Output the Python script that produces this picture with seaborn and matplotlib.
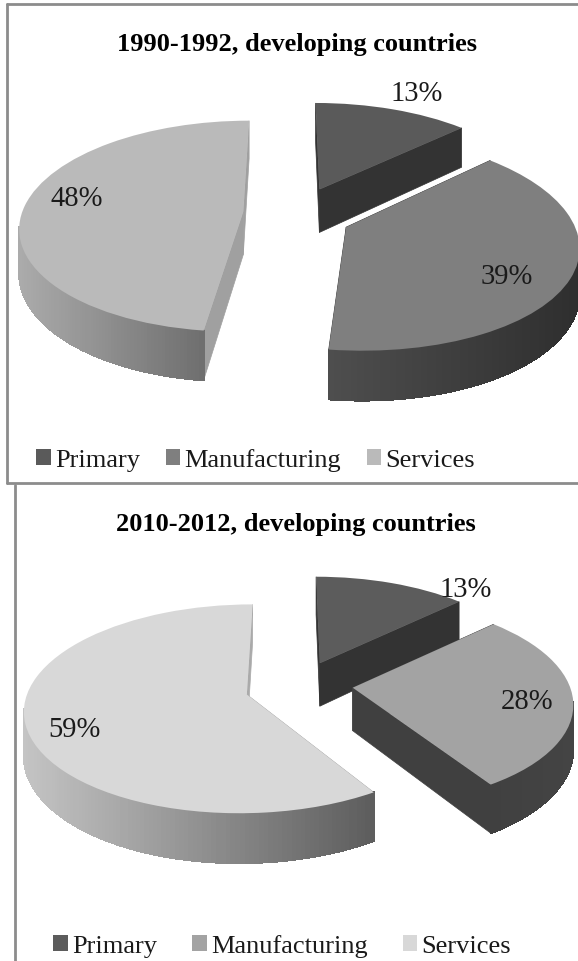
import numpy as np
import matplotlib
matplotlib.use("Agg")
import matplotlib.pyplot as plt
from matplotlib.collections import PolyCollection
from matplotlib.lines import Line2D
from matplotlib.patches import Patch, Polygon
from matplotlib.transforms import Transform
import seaborn as sns

sectors = ["Primary", "Manufacturing", "Services"]
shares_1990 = [13, 39, 48]
shares_2010 = [13, 28, 59]
title_1990 = "1990-1992, developing countries"
title_2010 = "2010-2012, developing countries"

sns.set_theme(style="white")
plt.rcParams["font.family"] = ["Liberation Serif", "DejaVu Serif"]

W, H = 578, 962
PERSPECTIVE = 0.137
RX, RY = 229.0, 103.5
BORDER = "#8c8c8c"


class TiltedSlice(Transform):
    """Projects a flat pie slice so that its far side recedes, about its own tip."""
    input_dims = 2
    output_dims = 2
    is_separable = False
    has_inverse = False

    def __init__(self, center, scale=(1.0, 1.0), lean=0.0, nudge=(0, 0), drop=0.0):
        super().__init__()
        self.center = center
        self.scale = scale
        self.lean = lean
        self.nudge = nudge
        self.drop = drop

    def transform_non_affine(self, values):
        pts = np.asarray(values, dtype=float)
        u = pts[:, 0] - self.center[0]
        v = pts[:, 1] - self.center[1]
        w = 1 + PERSPECTIVE * v
        x = self.center[0] + self.scale[0] * (u + self.lean * v) / w + self.nudge[0] / RX
        y = self.center[1] + self.scale[1] * v / w - self.drop / w - self.nudge[1] / RY
        return np.column_stack([x, y])


def draw_chart(box, pie_center, shares, title, title_xy, explode, scales, leans, nudges, depth,
               faces, walls, cuts, layers, labels, legend_xy, col_gap):
    top, bottom = box
    ax = fig.add_axes([0, 1 - bottom / H, 1, (bottom - top) / H])
    wedges, _ = ax.pie(shares, explode=explode, colors=sns.color_palette(faces),
                       startangle=90, counterclock=False, frame=True,
                       wedgeprops={"linewidth": 0})
    ax.set_aspect("auto")
    ax.set_xlim(-pie_center[0] / RX, (W - pie_center[0]) / RX)
    ax.set_ylim((pie_center[1] - bottom) / RY, (pie_center[1] - top) / RY)
    ax.axis("off")

    for wedge, scale, lean, nudge, wall, cut, layer in zip(wedges, scales, leans, nudges,
                                                           walls, cuts, layers):
        cx, cy = wedge.center
        flat = TiltedSlice((cx, cy), scale, lean, nudge)
        low = TiltedSlice((cx, cy), scale, lean, nudge, depth / RY)
        angles = np.radians(np.linspace(wedge.theta1, wedge.theta2, 200))
        rim = np.column_stack([cx + np.cos(angles), cy + np.sin(angles)])
        rim_top = flat.transform(rim)
        rim_low = low.transform(rim)
        apex_top = flat.transform(np.array([[cx, cy]]))[0]
        apex_low = low.transform(np.array([[cx, cy]]))[0]

        # Flat faces along the two radial cuts
        for i in (0, -1):
            ax.add_patch(Polygon([apex_top, rim_top[i], rim_low[i], apex_low], closed=True,
                                 facecolor=cut, edgecolor=cut, linewidth=0.5,
                                 zorder=2 * layer + 1.1))

        # Curved outer wall, shaded from left to right
        near = np.where(rim[:, 1] - cy <= -PERSPECTIVE)[0]
        if len(near) > 1:
            ramp = sns.blend_palette(wall, n_colors=128)
            xs = rim_top[near, 0]
            t = (xs - xs.min()) / max(xs.max() - xs.min(), 1e-6)
            quads = [[rim_top[a], rim_top[b], rim_low[b], rim_low[a]]
                     for a, b in zip(near[:-1], near[1:])]
            colours = [ramp[int(v * 127)] for v in t[:-1]]
            ax.add_collection(PolyCollection(quads, facecolors=colours, edgecolors=colours,
                                             linewidths=0.8, antialiaseds=False,
                                             zorder=2 * layer + 1.2))

        wedge.set_transform(flat + ax.transData)
        wedge.set_zorder(2 * layer + 1.5)

    fig.text(title_xy[0] / W, 1 - title_xy[1] / H, title, ha="center", va="center",
             fontsize=19, fontweight="bold", color="black")
    for share, (lx, ly) in zip(shares, labels):
        fig.text(lx / W, 1 - ly / H, f"{share}%", ha="center", va="center",
                 fontsize=20.6, color="#1a1a1a")

    handles = [Patch(facecolor=c, edgecolor="none", label=s) for c, s in zip(faces, sectors)]
    fig.legend(handles=handles, ncol=3, frameon=False, fontsize=19,
               loc="center left", bbox_to_anchor=(legend_xy[0] / W, 1 - legend_xy[1] / H),
               borderpad=0, borderaxespad=0, handlelength=0.55, handleheight=0.55,
               handletextpad=0.16, columnspacing=col_gap, labelcolor="#1a1a1a")


fig = plt.figure(figsize=(W / 100, H / 100), dpi=100, facecolor="white")

draw_chart(
    box=(0, 485), pie_center=(289, 214), shares=shares_1990,
    title=title_1990, title_xy=(297, 45),
    explode=[0.29, 0.28, 0.20],
    scales=[(0.95, 0.95), (1.0, 1.03), (0.965, 1.0)],
    leans=[-0.02, -0.06, 0.03],
    nudges=[(4, 4), (0, 1), (0, 0)],
    depth=43,
    faces=["#5a5a5a", "#7f7f7f", "#bababa"],
    walls=[["#333333", "#333333"], ["#4e4e4e", "#2e2e2e"], ["#ababab", "#6e6e6e"]],
    cuts=["#333333", "#3a3a3a", "#a0a0a0"],
    layers=[0, 2, 1],
    labels=[(417, 94), (507, 277), (77, 199)],
    legend_xy=(36, 461), col_gap=0.98,
)

draw_chart(
    box=(485, 962), pie_center=(305, 688), shares=shares_2010,
    title=title_2010, title_xy=(296, 525),
    explode=[0.24, 0.21, 0.26],
    scales=[(0.93, 0.95), (0.95, 0.98), (0.96, 0.99)],
    leans=[-0.02, -0.03, 0.03],
    nudges=[(-7, -1), (0, -2), (-1, 0)],
    depth=43,
    faces=["#5c5c5c", "#a3a3a3", "#d8d8d8"],
    walls=[["#333333", "#333333"], ["#404040", "#444444"], ["#c4c4c4", "#5c5c5c"]],
    cuts=["#333333", "#404040", "#aaaaaa"],
    layers=[0, 2, 1],
    labels=[(466, 590), (527, 702), (75, 730)],
    legend_xy=(53, 947), col_gap=1.34,
)

# Frame lines around the two panels
for xs, ys in [((7, 7), (5, 484)), ((7, W), (5, 5)), ((7, W), (484, 484)), ((15, 15), (486, H))]:
    fig.add_artist(Line2D([x / W for x in xs], [1 - y / H for y in ys], color=BORDER,
                          linewidth=2.0, transform=fig.transFigure))

fig.savefig("out.png", dpi=100)
